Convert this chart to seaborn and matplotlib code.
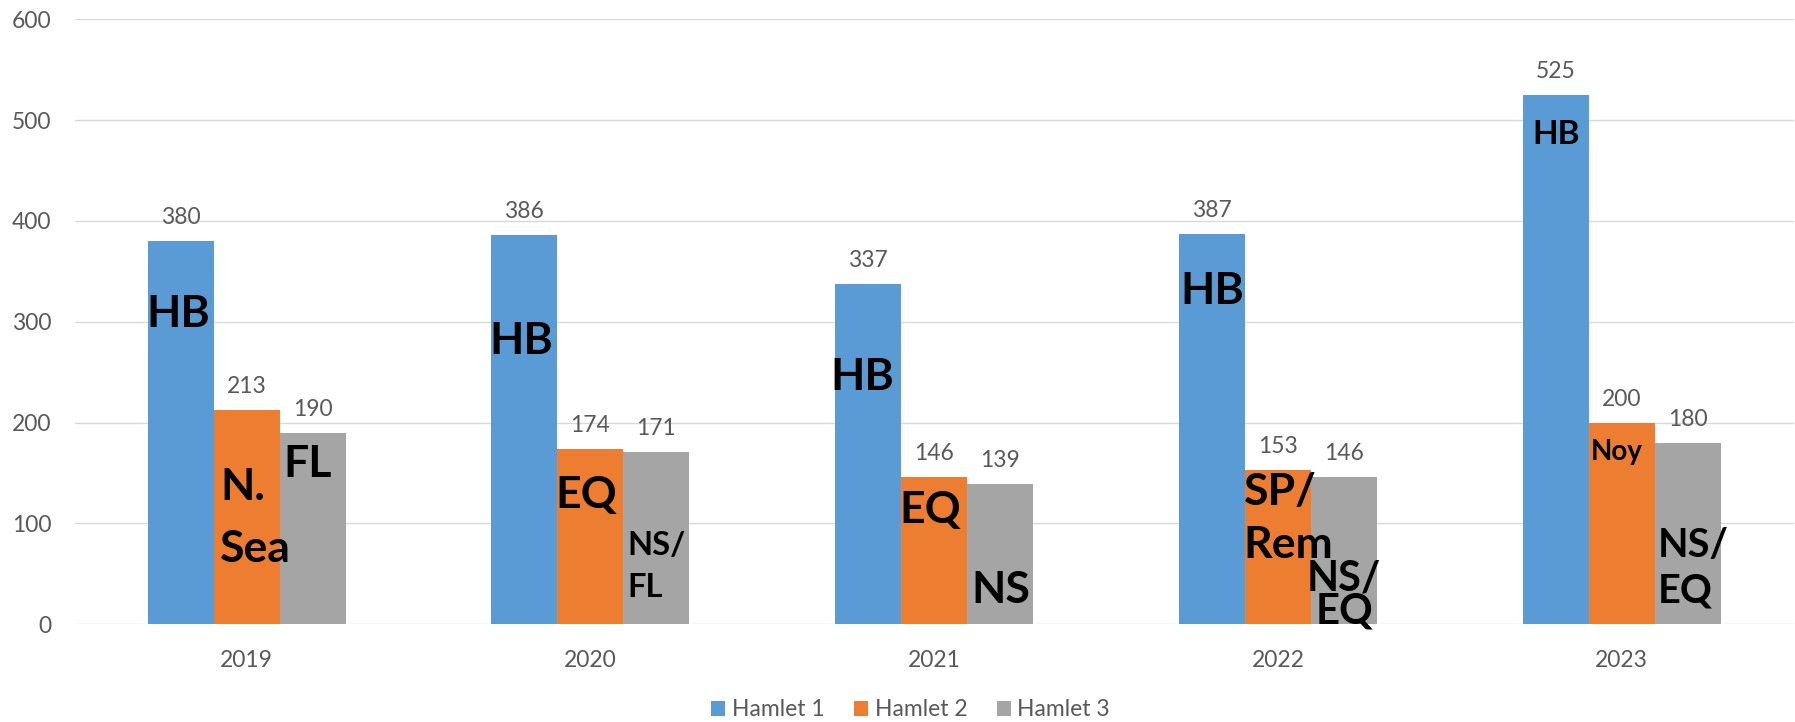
import matplotlib
matplotlib.use("Agg")
import matplotlib.pyplot as plt
import seaborn as sns
import pandas as pd

# ---- data ----
years = ["2019", "2020", "2021", "2022", "2023"]
series_names = ["Hamlet 1", "Hamlet 2", "Hamlet 3"]
hamlet1 = [380, 386, 337, 387, 525]
hamlet2 = [213, 174, 146, 153, 200]
hamlet3 = [190, 171, 139, 146, 180]
colors = ["#5B9BD5", "#ED7D31", "#A5A5A5"]

# in-bar notes: (year index, series index, lines, baseline value of each line)
notes = [
    (0, 0, ["HB"], [295.2]),
    (0, 1, ["N.", "Sea"], [123.3, 62.1]),
    (0, 2, ["FL"], [146.4]),
    (1, 0, ["HB"], [267.8]),
    (1, 1, ["EQ"], [115.7]),
    (1, 2, ["NS/", "FL"], [68.8, 27.4]),
    (2, 0, ["HB"], [232.4]),
    (2, 1, ["EQ"], [100.2]),
    (2, 2, ["NS"], [21.4]),
    (3, 0, ["HB"], [317.8]),
    (3, 1, ["SP/", "Rem"], [118.4, 66.1]),
    (3, 2, ["NS/", "EQ"], [34.0, 1.0]),
    (4, 0, ["HB"], [476.5]),
    (4, 1, ["Noy"], [163.0]),
    (4, 2, ["NS/", "EQ"], [67.2, 21.5]),
]
# styling of notes: (x offset px from bar left or None=centered, font size)
note_styles = [
    (-1.4, 32), (6.3, 32), (3.5, 32),
    (-2.3, 32), (-2.0, 32), (3.7, 23.5),
    (-4.7, 32), (-1.7, 32), (4.0, 32),
    (1.3, 32), (-1.4, 32), (None, 30),
    (None, 24), (2.0, 20), (3.0, 28.5),
]

series_values = [hamlet1, hamlet2, hamlet3]
df = pd.DataFrame({
    "Year": years * 3,
    "Hamlet": [n for n in series_names for _ in years],
    "Value": hamlet1 + hamlet2 + hamlet3,
})

sns.set_theme(style="white")
plt.rcParams["font.family"] = ["Lato", "DejaVu Sans"]

W, H = 1795, 722
fig = plt.figure(figsize=(W / 100, H / 100), dpi=100)
ax = fig.add_axes([74.8 / W, 1 - 624.3 / H, 1718.8 / W, (624.3 - 19.3) / H])

sns.barplot(data=df, x="Year", y="Value", hue="Hamlet", palette=colors,
            width=0.576, saturation=1, ax=ax, linewidth=0, edgecolor="none")

ax.set_xlim(-0.5, 4.5)
ax.set_ylim(0, 600)
ax.set_yticks(range(0, 601, 100))
ax.set_xlabel("")
ax.set_ylabel("")
ax.grid(axis="y", color="#D9D9D9", linewidth=1.0)
ax.grid(axis="x", visible=False)
ax.set_axisbelow(True)
for s in ax.spines.values():
    s.set_visible(False)
ax.tick_params(axis="both", length=0, labelsize=16.5, labelcolor="#595959")
ax.tick_params(axis="x", pad=18.5)
ax.tick_params(axis="y", pad=16.8)

px = 72 / 100
# value labels
for j, cont in enumerate(ax.containers):
    for i, bar in enumerate(cont):
        ax.annotate(f"{series_values[j][i]}",
                    xy=(bar.get_x() + bar.get_width() / 2, bar.get_height()),
                    xytext=(0, 17 * px), textcoords="offset points",
                    ha="center", va="baseline", fontsize=16.5, color="#595959")

# in-bar notes
for (yi, si, lines, bases), (dx, fs) in zip(notes, note_styles):
    bar = ax.containers[si][yi]
    for line, b in zip(lines, bases):
        if dx is None:
            ax.annotate(line, xy=(bar.get_x() + bar.get_width() / 2, b),
                        ha="center", va="baseline", fontsize=fs,
                        fontweight="bold", color="black", annotation_clip=False)
        else:
            ax.annotate(line, xy=(bar.get_x(), b), xytext=(dx * px, 0),
                        textcoords="offset points", ha="left", va="baseline",
                        fontsize=fs, fontweight="bold", color="black",
                        annotation_clip=False)

handles, labels = ax.get_legend_handles_labels()
ax.legend(handles, labels, loc="center",
          bbox_to_anchor=(910.8 / W, 1 - 710 / H), bbox_transform=fig.transFigure,
          ncol=3, frameon=False, fontsize=16.5, handlelength=0.61,
          handleheight=0.61, handletextpad=0.3, columnspacing=1.27,
          borderpad=0, labelcolor="#595959")

fig.savefig("out.png", dpi=100)
